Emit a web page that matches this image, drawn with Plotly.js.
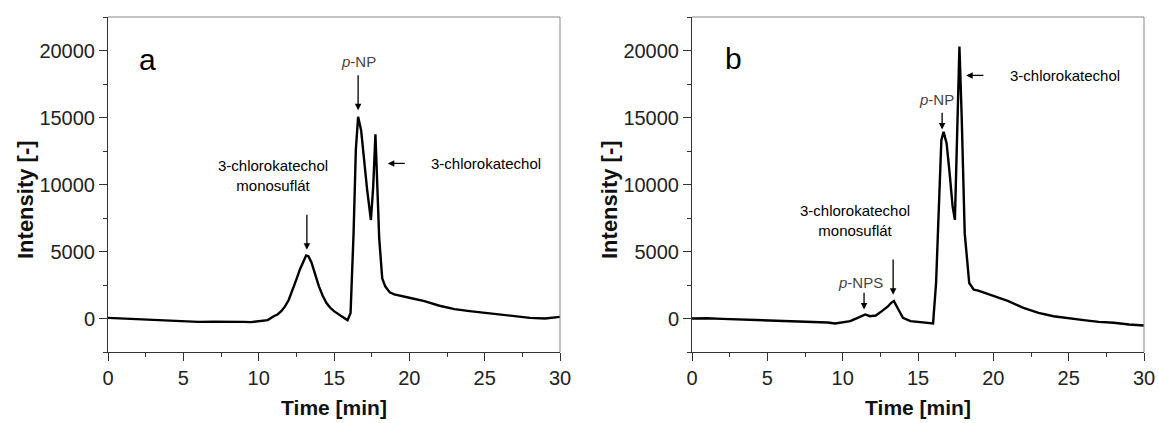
<!DOCTYPE html>
<html>
<head>
<meta charset="utf-8">
<script src="https://cdn.plot.ly/plotly-3.0.1.min.js"></script>
<style>html,body{margin:0;padding:0;background:#fff}#chart{width:1159px;height:423px}</style>
</head>
<body>
<div id="chart"></div>
<script>
// Panel a: time [min] and intensity
const timeA = [0, 1, 2.5, 4, 5, 6, 7, 8, 9, 9.5, 10.2, 10.6, 11, 11.25, 11.5, 11.75, 12, 12.25, 12.5, 12.75, 13, 13.15, 13.3, 13.5, 13.75, 14, 14.25, 14.5, 14.75, 15, 15.5, 15.9, 16.1, 16.3, 16.45, 16.6, 16.8, 17.0, 17.2, 17.45, 17.6, 17.75, 17.9, 18.0, 18.2, 18.4, 18.7, 19, 20, 21, 22, 23, 24, 25, 26, 27, 28, 29, 30];
const intensityA = [50, 0, -70, -120, -150, -250, -230, -220, -250, -270, -200, -120, 170, 300, 550, 900, 1400, 2100, 2900, 3700, 4400, 4700, 4650, 4200, 3300, 2400, 1700, 1150, 800, 550, 170, -120, 420, 6400, 12600, 15050, 14050, 11800, 9600, 7350, 9800, 13750, 8900, 6000, 3000, 2400, 1950, 1800, 1550, 1300, 950, 700, 550, 420, 320, 170, 50, 0, 120];

// Panel b: time [min] and intensity
const timeB = [0, 1, 2, 3, 4, 5, 6, 7, 8, 9, 9.5, 10.5, 11, 11.5, 11.8, 12.2, 12.6, 13, 13.2, 13.4, 13.7, 14, 14.5, 15, 15.5, 16.0, 16.2, 16.4, 16.55, 16.7, 16.9, 17.1, 17.3, 17.45, 17.6, 17.75, 17.9, 18.1, 18.4, 18.7, 19, 20, 21, 22, 23, 24, 25, 26, 27, 28, 29, 30];
const intensityB = [0, 20, -25, -60, -120, -170, -220, -200, -270, -300, -370, -200, 50, 300, 170, 220, 550, 900, 1150, 1300, 670, 50, -200, -250, -270, -370, 2650, 8850, 13300, 13930, 13060, 10830, 8350, 7360, 13800, 20300, 15050, 6370, 2650, 2150, 2080, 1710, 1290, 790, 420, 170, 0, -120, -250, -320, -450, -520];

// Axis ticks
const xTickVals = [0, 5, 10, 15, 20, 25, 30];
const yTickVals = [0, 5000, 10000, 15000, 20000];

const FONT = "Liberation Sans, Arial, sans-serif";
const W = 1159, H = 423;
const px = (a, b) => [a / W, b / W];
const py = (top, bottom) => [(H - bottom) / H, (H - top) / H];

function xAxis(domain, anchor) {
  return {
    domain: domain, anchor: anchor, range: [0, 30],
    tickvals: xTickVals, ticks: 'outside', ticklen: 8, tickwidth: 1, tickcolor: '#333',
    minor: {dtick: 2.5, ticks: 'outside', ticklen: 4, tickcolor: '#333', showgrid: false},
    showline: true, linecolor: '#333', linewidth: 1, mirror: false,
    showgrid: false, zeroline: false,
    tickfont: {family: FONT, size: 20, color: '#222'},
    title: {text: '<b>Time [min]</b>', font: {family: FONT, size: 21, color: '#111'}, standoff: 12}
  };
}
function yAxis(domain, anchor) {
  return {
    domain: domain, anchor: anchor, range: [-2500, 22500],
    tickvals: yTickVals, ticks: 'outside', ticklen: 8, tickwidth: 1, tickcolor: '#333',
    minor: {dtick: 2500, ticks: 'outside', ticklen: 4, tickcolor: '#333', showgrid: false},
    showline: true, linecolor: '#333', linewidth: 1, mirror: false,
    showgrid: false, zeroline: false, tickformat: 'd',
    tickfont: {family: FONT, size: 20, color: '#222'}
  };
}

const traces = [
  {x: timeA, y: intensityA, xaxis: 'x', yaxis: 'y', mode: 'lines', line: {color: '#000', width: 2.4}, hoverinfo: 'skip'},
  {x: timeB, y: intensityB, xaxis: 'x2', yaxis: 'y2', mode: 'lines', line: {color: '#000', width: 2.4}, hoverinfo: 'skip'}
];

function label(xref, yref, x, y, text, size, color) {
  return {xref: xref, yref: yref, x: x, y: y, text: text, showarrow: false,
    font: {family: FONT, size: size, color: color || '#000'}, xanchor: 'center', yanchor: 'middle'};
}
function arrow(xref, yref, x, y, ax, ay) {
  return {xref: xref, yref: yref, axref: xref, ayref: yref, x: x, y: y, ax: ax, ay: ay,
    text: '', showarrow: true, arrowhead: 2, arrowsize: 1, arrowwidth: 1.3, arrowcolor: '#000'};
}
function yTitle(xPix, yPix) {
  return {xref: 'paper', yref: 'paper', x: xPix / W, y: 1 - yPix / H, text: '<b>Intensity [-]</b>',
    textangle: -90, showarrow: false, xanchor: 'center', yanchor: 'middle',
    font: {family: FONT, size: 22, color: '#111'}};
}

const annotations = [
  yTitle(25, 200),
  yTitle(609, 200),
  // Panel a
  label('x', 'y', 2.64, 19300, 'a', 30),
  label('x', 'y', 16.6, 19180, '<i>p</i>-NP', 15, '#444'),
  arrow('x', 'y', 16.6, 15540, 16.6, 18270),
  label('x', 'y', 25.1, 11570, '3-chlorokatechol', 15),
  arrow('x', 'y', 18.57, 11570, 19.8, 11570),
  label('x', 'y', 10.96, 10670, '3-chlorokatechol<br>monosuflát', 15),
  arrow('x', 'y', 13.2, 5130, 13.2, 7860),
  // Panel b
  label('x2', 'y2', 2.74, 19400, 'b', 30),
  label('x2', 'y2', 24.75, 18140, '3-chlorokatechol', 15),
  arrow('x2', 'y2', 18.2, 18140, 19.44, 18140),
  label('x2', 'y2', 16.23, 16330, '<i>p</i>-NP', 15, '#444'),
  arrow('x2', 'y2', 16.6, 14100, 16.6, 15460),
  label('x2', 'y2', 10.8, 7340, '3-chlorokatechol<br>monosuflát', 15),
  arrow('x2', 'y2', 13.35, 1780, 13.35, 4510),
  label('x2', 'y2', 11.18, 2700, '<i>p</i>-NPS', 15, '#444'),
  arrow('x2', 'y2', 11.42, 670, 11.42, 2030)
];

// light gray top/right frame lines
const shapes = [
  {type: 'line', xref: 'x domain', yref: 'y domain', x0: 0, x1: 1, y0: 1, y1: 1, line: {color: '#888', width: 1}},
  {type: 'line', xref: 'x domain', yref: 'y domain', x0: 1, x1: 1, y0: 0, y1: 1, line: {color: '#888', width: 1}},
  {type: 'line', xref: 'x2 domain', yref: 'y2 domain', x0: 0, x1: 1, y0: 1, y1: 1, line: {color: '#888', width: 1}},
  {type: 'line', xref: 'x2 domain', yref: 'y2 domain', x0: 1, x1: 1, y0: 0, y1: 1, line: {color: '#888', width: 1}}
];

const layout = {
  width: W, height: H,
  margin: {l: 0, r: 0, t: 0, b: 0},
  paper_bgcolor: '#fff', plot_bgcolor: '#fff',
  showlegend: false,
  xaxis: xAxis(px(108, 560), 'y'),
  yaxis: yAxis(py(17, 352), 'x'),
  xaxis2: xAxis(px(692, 1144), 'y2'),
  yaxis2: yAxis(py(17, 352), 'x2'),
  annotations: annotations,
  shapes: shapes
};

Plotly.newPlot('chart', traces, layout, {staticPlot: true});
</script>
</body>
</html>
